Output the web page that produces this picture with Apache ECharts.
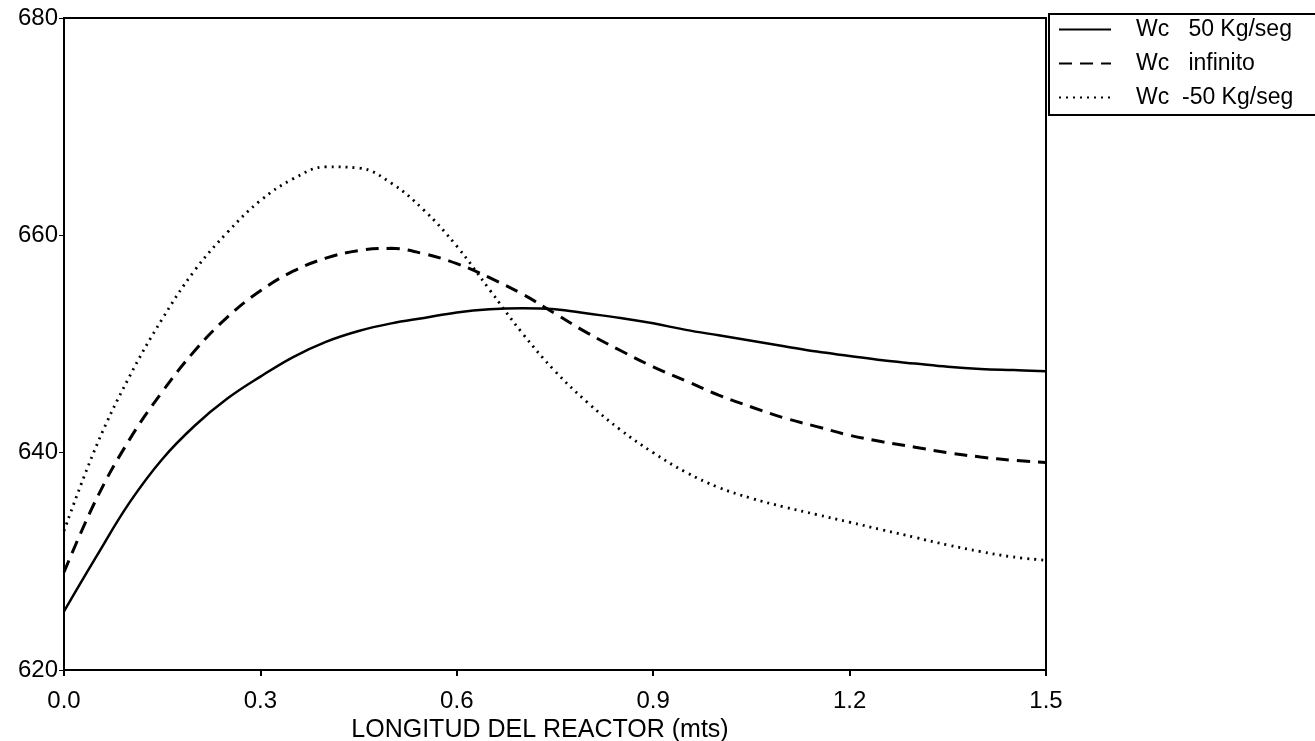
<!DOCTYPE html>
<html style="height: 100%">
<head>
  <meta charset="utf-8" />
  <title>Longitud del reactor</title>
  <script src="https://cdn.jsdelivr.net/npm/echarts@6/dist/echarts.min.js"></script>
</head>
<body style="height: 100%; margin: 0; overflow: hidden; background: #fff">
  <div id="container" style="width: 1315px; height: 741px"></div>
  <script>
    // longitud (mts)
    var longitud = [0, 0.05, 0.1, 0.15, 0.2, 0.25, 0.3, 0.35, 0.4, 0.45, 0.5, 0.55, 0.6, 0.65, 0.7, 0.75,
      0.8, 0.85, 0.9, 0.95, 1.0, 1.05, 1.1, 1.15, 1.2, 1.25, 1.3, 1.35, 1.4, 1.45, 1.5];
    var wc50 = [625.4, 630.5, 635.4, 639.4, 642.5, 645.0, 647.0, 648.8, 650.2, 651.2, 651.9, 652.4, 652.9, 653.2, 653.3, 653.2,
      652.8, 652.4, 651.9, 651.3, 650.8, 650.3, 649.8, 649.3, 648.9, 648.5, 648.2, 647.9, 647.7, 647.6, 647.5];
    var wcInf = [629.0, 635.8, 641.2, 645.6, 649.4, 652.5, 654.9, 656.7, 657.9, 658.6, 658.8, 658.3, 657.4, 656.1, 654.6, 652.8,
      651.0, 649.4, 647.9, 646.6, 645.3, 644.2, 643.2, 642.4, 641.6, 641.0, 640.5, 640.0, 639.6, 639.3, 639.1];
    var wcNeg50 = [632.8, 640.7, 647.0, 652.3, 656.8, 660.3, 663.2, 665.2, 666.3, 666.2, 664.8, 662.3, 659.0, 655.0, 651.0, 647.5,
      644.6, 642.1, 640.0, 638.2, 636.8, 635.8, 635.0, 634.3, 633.6, 632.9, 632.2, 631.5, 630.9, 630.4, 630.1];
    var nombres = ["Wc   50 Kg/seg", "Wc   infinito", "Wc  -50 Kg/seg"];

    var pares = (ys) => longitud.map((x, i) => [x, ys[i]]);

    var myChart = echarts.init(document.getElementById("container"), null, { renderer: "canvas" });
    var font = "Liberation Sans, Arial, sans-serif";

    var option = {
      animation: false,
      backgroundColor: "#fff",
      grid: {
        left: 64, right: 269, top: 18, bottom: 71,
        outerBoundsMode: "none",
        show: true, borderColor: "#000", borderWidth: 2, backgroundColor: "transparent"
      },
      legend: {
        left: 1049, top: 14,
        orient: "vertical",
        borderColor: "#000", borderWidth: 2,
        padding: [4, 40, 6, 9],
        itemWidth: 52, itemHeight: 20, itemGap: 11,
        itemStyle: { opacity: 0 },
        textStyle: { fontFamily: font, fontSize: 23, color: "#000", padding: [0, 0, 0, 20] },
        data: nombres
      },
      xAxis: {
        type: "value", min: 0, max: 1.5, interval: 0.3,
        name: "LONGITUD DEL REACTOR (mts)",
        nameLocation: "middle", nameGap: 47,
        nameTextStyle: { fontFamily: font, fontSize: 25, color: "#000", padding: [0, 0, 0, -30] },
        axisLine: { lineStyle: { color: "#000", width: 2 } },
        axisTick: { length: 6, lineStyle: { color: "#000", width: 2 } },
        axisLabel: { fontFamily: font, fontSize: 24, color: "#000", margin: 19, formatter: (v) => v.toFixed(1) },
        splitLine: { show: false }
      },
      yAxis: {
        type: "value", min: 620, max: 680, interval: 20,
        axisLine: { show: true, lineStyle: { color: "#000", width: 2 } },
        axisTick: { show: true, length: 5, lineStyle: { color: "#000", width: 1 } },
        axisLabel: { fontFamily: font, fontSize: 24, color: "#000", margin: 6 },
        splitLine: { show: false }
      },
      series: [
        {
          name: nombres[0], type: "line", smooth: 0.4, symbol: "none",
          lineStyle: { color: "#000", width: 2.5, type: "solid" },
          itemStyle: { color: "#000" },
          data: pares(wc50)
        },
        {
          name: nombres[1], type: "line", smooth: 0.4, symbol: "none",
          lineStyle: { color: "#000", width: 3, type: [13, 8] },
          itemStyle: { color: "#000" },
          data: pares(wcInf)
        },
        {
          name: nombres[2], type: "line", smooth: 0.4, symbol: "none",
          lineStyle: { color: "#000", width: 2.8, type: [2, 5] },
          itemStyle: { color: "#000" },
          data: pares(wcNeg50)
        }
      ]
    };
    myChart.setOption(option);
  </script>
</body>
</html>
